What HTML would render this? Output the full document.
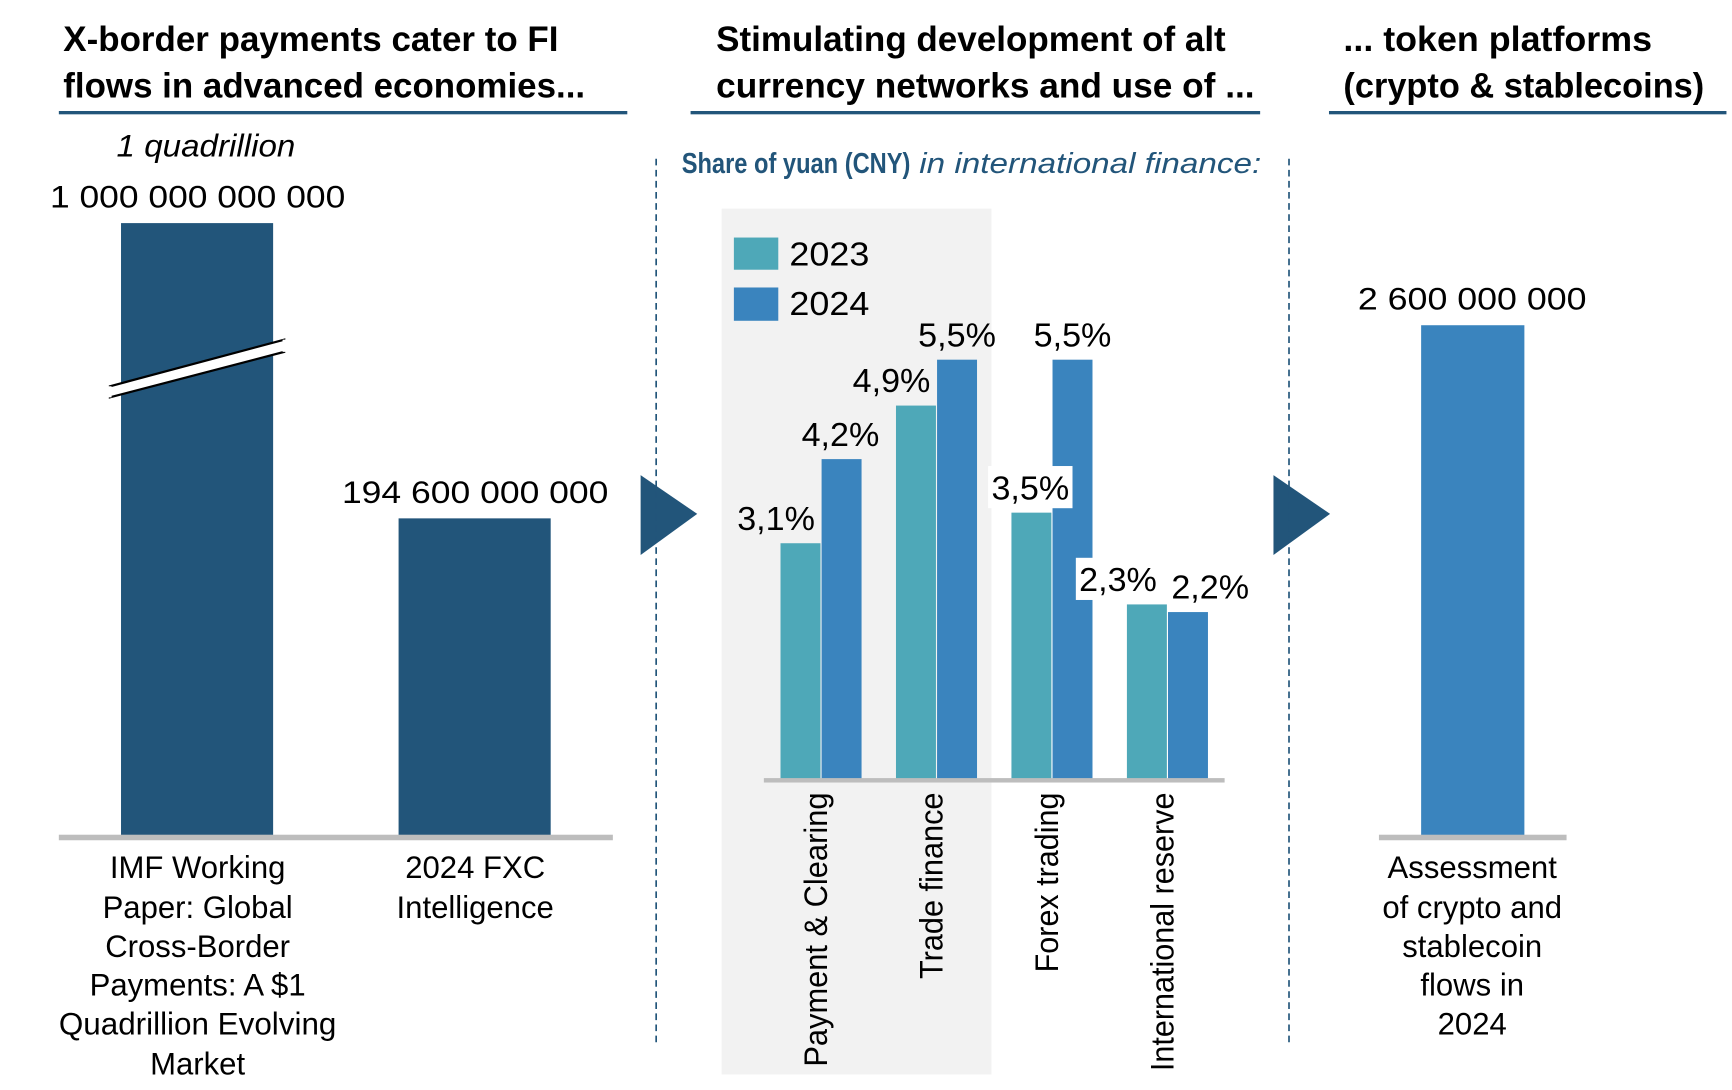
<!DOCTYPE html>
<html><head><meta charset="utf-8"><style>
html,body{margin:0;padding:0;background:#fff;}
svg{display:block;}
text{font-family:"Liberation Sans Narrow","Liberation Sans",sans-serif;fill:#000;}
.t{font-weight:bold;font-size:32px;}
.n{font-size:28px;}
.v{font-size:30px;}
.c{font-size:29px;font-family:"Liberation Sans",sans-serif;}
</style></head><body>
<svg id="svg" width="1732" height="1090" viewBox="0 0 1560 982" preserveAspectRatio="none" xmlns="http://www.w3.org/2000/svg">
<g>
<text class="t" x="57" y="46" textLength="446" lengthAdjust="spacingAndGlyphs">X-border payments cater to FI</text>
<text class="t" x="57" y="88" textLength="470" lengthAdjust="spacingAndGlyphs">flows in advanced economies...</text>
<rect x="53" y="100" width="512" height="3" fill="#22557a"/>
</g>
<g>
<text class="t" x="645" y="46" textLength="459" lengthAdjust="spacingAndGlyphs">Stimulating development of alt</text>
<text class="t" x="645" y="88" textLength="485" lengthAdjust="spacingAndGlyphs">currency networks and use of ...</text>
<rect x="622" y="100" width="513" height="3" fill="#22557a"/>
</g>
<g>
<text class="t" x="1210" y="46" textLength="278" lengthAdjust="spacingAndGlyphs">... token platforms</text>
<text class="t" x="1210" y="88" textLength="325" lengthAdjust="spacingAndGlyphs">(crypto &amp; stablecoins)</text>
<rect x="1197" y="100" width="358" height="3" fill="#22557a"/>
</g>
<!-- panel 1 -->
<text class="n" x="105" y="141" font-style="italic" textLength="161" lengthAdjust="spacingAndGlyphs">1 quadrillion</text>
<text class="n" x="45" y="187" textLength="266" lengthAdjust="spacingAndGlyphs">1 000 000 000 000</text>
<rect x="109" y="201" width="137" height="552" fill="#22557a"/>
<polygon points="99,348 256,306 256,317 99,358" fill="#fff" stroke="#000" stroke-width="2"/>
<line x1="99" y1="348" x2="99" y2="358" stroke="#fff" stroke-width="3"/><line x1="256" y1="306" x2="256" y2="317" stroke="#fff" stroke-width="3"/>
<text class="n" x="308" y="453" textLength="240" lengthAdjust="spacingAndGlyphs">194 600 000 000</text>
<rect x="359" y="467" width="137" height="286" fill="#22557a"/>
<rect x="53" y="752" width="499" height="5" fill="#bdbdbd"/>
<g>
<text x="178" y="791" class="n" text-anchor="middle">IMF Working</text>
<text x="178" y="827" class="n" text-anchor="middle">Paper: Global</text>
<text x="178" y="862" class="n" text-anchor="middle">Cross-Border</text>
<text x="178" y="897" class="n" text-anchor="middle">Payments: A $1</text>
<text x="178" y="932" class="n" text-anchor="middle" textLength="250" lengthAdjust="spacingAndGlyphs">Quadrillion Evolving</text>
<text x="178" y="968" class="n" text-anchor="middle">Market</text>
</g>
<g>
<text x="428" y="791" class="n" text-anchor="middle">2024 FXC</text>
<text x="428" y="827" class="n" text-anchor="middle">Intelligence</text>
</g>
<polygon points="577,428 628,463 577,500" fill="#22557a"/>
<polygon points="1147,428 1198,463 1147,500" fill="#22557a"/>
<line x1="591" y1="143" x2="591" y2="940" stroke="#22557a" stroke-width="1.5" stroke-dasharray="6,4"/>
<line x1="1161" y1="143" x2="1161" y2="940" stroke="#22557a" stroke-width="1.5" stroke-dasharray="6,4"/>
<!-- panel 2 -->
<text x="614" y="156" font-size="26" font-weight="bold" style="fill:#22557a" textLength="206" lengthAdjust="spacingAndGlyphs">Share of yuan (CNY)</text>
<text x="828" y="156" font-size="26" font-style="italic" style="fill:#22557a" textLength="308" lengthAdjust="spacingAndGlyphs">in international finance:</text>
<rect x="650" y="188" width="243" height="780" fill="#f2f2f2"/>
<g>
<rect x="661" y="214" width="40" height="29" fill="#4ea8b8"/>
<text class="v" x="711" y="239" textLength="72" lengthAdjust="spacingAndGlyphs">2023</text>
<rect x="661" y="259" width="40" height="30" fill="#3a84be"/>
<text class="v" x="711" y="284" textLength="72" lengthAdjust="spacingAndGlyphs">2024</text>
</g>
<g id="chart"></g>
<!-- panel 3 -->
<text class="n" x="1326" y="279" text-anchor="middle" textLength="206" lengthAdjust="spacingAndGlyphs">2 600 000 000</text>
<rect x="1280" y="293" width="93" height="460" fill="#3a84be"/>
<rect x="1242" y="752" width="169" height="5" fill="#bdbdbd"/>
<g>
<text x="1326" y="791" class="n" text-anchor="middle">Assessment</text>
<text x="1326" y="827" class="n" text-anchor="middle">of crypto and</text>
<text x="1326" y="862" class="n" text-anchor="middle">stablecoin</text>
<text x="1326" y="897" class="n" text-anchor="middle">flows in</text>
<text x="1326" y="932" class="n" text-anchor="middle">2024</text>
</g>
</svg>
<script>
const categories = ["Payment & Clearing","Trade finance","Forex trading","International reserve"];
const values2023 = [3.1, 4.9, 3.5, 2.3];
const values2024 = [4.2, 5.5, 5.5, 2.2];
const valueLabels2023 = ["3,1%","4,9%","3,5%","2,3%"];
const valueLabels2024 = ["4,2%","5,5%","5,5%","2,2%"];

const NS = "http://www.w3.org/2000/svg";
const g = document.getElementById('chart');
const baseY = 703, pxPerPct = 68.9, x0 = 703, slot = 104, barW = 36;
const yScale = v => baseY - v * pxPerPct;
const xScale = i => x0 + i * slot;
function mk(tag, attrs) { const e = document.createElementNS(NS, tag); for (const k in attrs) e.setAttribute(k, attrs[k]); g.appendChild(e); return e; }
const labelLengths = [247, 168, 162, 251];
const nudge2023 = [-22, -22, -1, -26];
const nudge2024 = [-1, 0, 0, 20];
const series = [[values2023, valueLabels2023, "#4ea8b8", 0, nudge2023, '2023'], [values2024, valueLabels2024, "#3a84be", 37, nudge2024, '2024']];
series.forEach(([vals, labs, col, off, dx, yr]) => {
  vals.forEach((v, i) => {
    const x = xScale(i) + off, y = yScale(v);
    const r = mk('rect', {x: x, y: y, width: barW, height: baseY - y, fill: col});
    
    
  });
});
series.forEach(([vals, labs, col, off, dx, yr]) => {
  vals.forEach((v, i) => {
    const cx = xScale(i) + off + barW / 2 + dx[i], y = yScale(v);
    if (yr === '2023' && i >= 2) {
      const bg = mk('rect', {x: cx - 38, y: y - 42, width: 76, height: 38, fill: '#fff'});
      
      
    }
    const t = mk('text', {x: cx, y: y - 12, 'text-anchor': 'middle', class: 'v', textLength: 70, lengthAdjust: 'spacingAndGlyphs'});
    
    
    t.textContent = labs[i];
  });
});
const ax = mk('rect', {x: 688, y: 701, width: 415, height: 4, fill: '#bdbdbd'});


categories.forEach((c, i) => {
  const cx = xScale(i) + 37 + 5;
  const t = mk('text', {x: 0, y: 0, class: 'c', 'text-anchor': 'end', transform: 'translate(' + cx + ',714) rotate(-90)', textLength: labelLengths[i], lengthAdjust: 'spacingAndGlyphs'});
  
  
  t.textContent = c;
});
</script>
</body></html>
